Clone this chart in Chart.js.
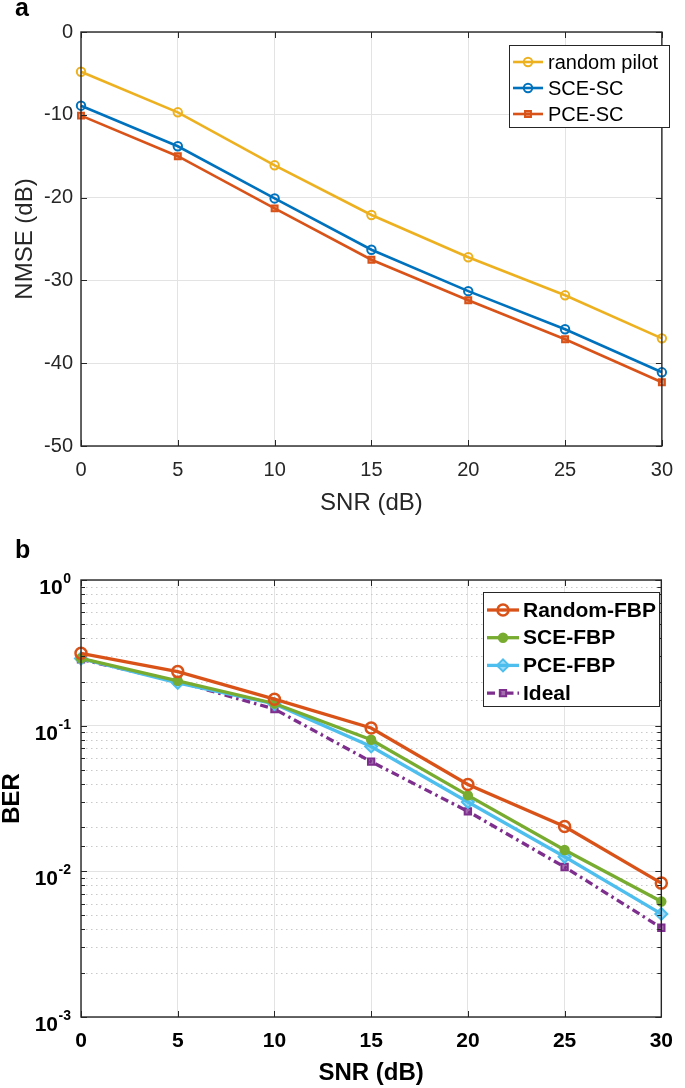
<!DOCTYPE html>
<html><head><meta charset="utf-8">
<script src="https://cdn.jsdelivr.net/npm/chart.js@4.4.1/dist/chart.umd.min.js"></script>
<style>
html,body{margin:0;padding:0;background:#fff;}
#wrap{position:relative;width:685px;height:1088px;overflow:hidden;}
canvas{position:absolute;left:0;}
#ca{top:0px}
#cb{top:520px}
</style></head><body>
<div id="wrap">
<canvas id="ca" width="685" height="520"></canvas>
<canvas id="cb" width="685" height="568"></canvas>
</div>
<script>
// ---------- data ----------
const snr = [0, 5, 10, 15, 20, 25, 30];
const snrTicks = [0, 5, 10, 15, 20, 25, 30];

// panel a: NMSE (dB)
const nmseTicks = [0, -10, -20, -30, -40, -50];
const nmseRandomPilot = [-4.8, -9.7, -16.1, -22.1, -27.2, -31.8, -37.0];
const nmseSCE_SC      = [-8.9, -13.8, -20.1, -26.3, -31.3, -35.9, -41.1];
const nmsePCE_SC      = [-10.1, -15.0, -21.3, -27.5, -32.4, -37.1, -42.3];

// panel b: BER
const berMajorTicks = [1, 0.1, 0.01, 0.001];
const berTickExponents = ['0', '-1', '-2', '-3'];
const berRandomFBP = [0.314, 0.235, 0.152, 0.0964, 0.0395, 0.0203, 0.0083];
const berSCE_FBP   = [0.290, 0.203, 0.142, 0.0800, 0.0332, 0.0140, 0.0062];
const berPCE_FBP   = [0.289, 0.197, 0.141, 0.0720, 0.0299, 0.0126, 0.0051];
const berIdeal     = [0.285, 0.201, 0.130, 0.0566, 0.0258, 0.0107, 0.0041];

// ---------- helpers ----------
const FONT = "'Liberation Sans', Arial, Helvetica, sans-serif";
const AX = '#262626';
const pts = (ys) => snr.map((x, i) => ({x: x, y: ys[i]}));
const isMajorLog = (v) => Math.abs(Math.log10(v) - Math.round(Math.log10(v))) < 1e-9;

const matlabPlugin = {
  id: 'matlab',
  beforeDatasetsDraw(chart, args, opts) {
    if (!opts.log) return;
    const {ctx, chartArea: a} = chart;
    const ys = chart.scales.y;
    ctx.save();
    ctx.strokeStyle = '#c9c9c9';
    ctx.lineWidth = 1;
    ctx.setLineDash([1.5, 3.5]);
    ys.ticks.forEach(t => {
      if (isMajorLog(t.value)) return;
      const y = Math.round(ys.getPixelForValue(t.value)) + 0.5;
      ctx.beginPath(); ctx.moveTo(a.left, y); ctx.lineTo(a.right, y); ctx.stroke();
    });
    ctx.restore();
  },
  afterDraw(chart, args, opts) {
    const {ctx, chartArea: a} = chart;
    const xs = chart.scales.x, ys = chart.scales.y;
    ctx.save();
    // inward tick marks on all four sides
    ctx.strokeStyle = AX;
    ctx.lineWidth = 1;
    ctx.setLineDash([]);
    xs.ticks.forEach(t => {
      const x = Math.round(xs.getPixelForValue(t.value)) + 0.5;
      ctx.beginPath();
      ctx.moveTo(x, a.bottom); ctx.lineTo(x, a.bottom - 6);
      ctx.moveTo(x, a.top); ctx.lineTo(x, a.top + 6);
      ctx.stroke();
    });
    ys.ticks.forEach(t => {
      const y = Math.round(ys.getPixelForValue(t.value)) + 0.5;
      const len = (!opts.log || isMajorLog(t.value)) ? 6 : 4;
      ctx.beginPath();
      ctx.moveTo(a.left, y); ctx.lineTo(a.left + len, y);
      ctx.moveTo(a.right, y); ctx.lineTo(a.right - len, y);
      ctx.stroke();
    });
    // axes box
    ctx.lineWidth = 1.4;
    ctx.strokeRect(a.left, a.top, a.right - a.left, a.bottom - a.top);

    // log-axis labels 10^n with superscript
    if (opts.log) {
      ctx.fillStyle = '#000';
      berMajorTicks.forEach((v, i) => {
        const y = ys.getPixelForValue(v);
        ctx.font = 'bold 14px ' + FONT;
        ctx.textAlign = 'right';
        ctx.textBaseline = 'alphabetic';
        const ew = ctx.measureText(berTickExponents[i]).width;
        ctx.fillText(berTickExponents[i], 71, y + 3);
        ctx.font = 'bold 21px ' + FONT;
        ctx.fillText('10', 71 - ew - 0.5, y + 14);
      });
    }

    // legend (line + marker + text), drawn from the datasets
    const L = opts.legend;
    ctx.fillStyle = '#fff';
    ctx.fillRect(L.x, L.y, L.w, L.h);
    ctx.strokeStyle = AX;
    ctx.lineWidth = 1;
    ctx.strokeRect(L.x + 0.5, L.y + 0.5, L.w, L.h);
    chart.data.datasets.forEach((ds, i) => {
      const y = L.y + L.first + i * L.gap;
      ctx.strokeStyle = ds.borderColor;
      ctx.lineWidth = ds.borderWidth;
      ctx.setLineDash(ds.borderDash || []);
      ctx.beginPath(); ctx.moveTo(L.x0, y); ctx.lineTo(L.x1, y); ctx.stroke();
      ctx.setLineDash([]);
      ctx.fillStyle = ds.pointBackgroundColor;
      ctx.strokeStyle = ds.pointBorderColor || ds.borderColor;
      ctx.lineWidth = ds.pointBorderWidth;
      Chart.helpers.drawPoint(ctx, {pointStyle: ds.pointStyle, radius: ds.pointRadius, borderWidth: ds.pointBorderWidth, rotation: 0}, (L.x0 + L.x1) / 2, y);
      ctx.fillStyle = '#000';
      ctx.font = L.font;
      ctx.textAlign = 'left';
      ctx.textBaseline = 'middle';
      ctx.fillText(ds.label, L.tx, y + 1);
    });

    // panel label
    ctx.fillStyle = '#000';
    ctx.font = 'bold 25px ' + FONT;
    ctx.textAlign = 'left';
    ctx.textBaseline = 'alphabetic';
    ctx.fillText(opts.panel.text, opts.panel.x, opts.panel.y);
    ctx.restore();
  }
};

function ds(label, data, color, style, radius, bg, opts) {
  return Object.assign({
    label: label, data: data, borderColor: color, pointBorderColor: color,
    pointBackgroundColor: bg, pointStyle: style, pointRadius: radius,
    pointHoverRadius: radius, borderWidth: 2.6, pointBorderWidth: 2,
    tension: 0, clip: false, fill: false
  }, opts || {});
}

// ---------- chart a ----------
new Chart(document.getElementById('ca'), {
  type: 'line',
  data: {
    datasets: [
      ds('random pilot', pts(nmseRandomPilot), '#EDB120', 'circle', 4.2, 'rgba(255,255,255,0)'),
      ds('SCE-SC', pts(nmseSCE_SC), '#0072BD', 'circle', 4.2, 'rgba(255,255,255,0)'),
      ds('PCE-SC', pts(nmsePCE_SC), '#D95319', 'rect', 4.2, 'rgba(217,83,25,0.6)')
    ]
  },
  options: {
    responsive: false, animation: false, devicePixelRatio: 1,
    layout: {padding: {top: 32, right: 13, left: 0, bottom: 0}},
    plugins: {
      legend: {display: false}, tooltip: {enabled: false},
      matlab: {
        log: false,
        panel: {text: 'a', x: 15, y: 16},
        legend: {x: 509, y: 45, w: 160, h: 82, first: 17, gap: 26, x0: 513, x1: 543, tx: 548, font: '20px ' + FONT}
      }
    },
    scales: {
      x: {
        type: 'linear', min: 0, max: 30,
        afterBuildTicks: (s) => { s.ticks = snrTicks.map(v => ({value: v})); },
        ticks: {padding: 12, color: AX, font: {family: FONT, size: 20}},
        grid: {color: '#e3e3e3', drawTicks: false},
        border: {display: false},
        title: {display: true, text: 'SNR (dB)', color: AX, font: {family: FONT, size: 24, lineHeight: 1}, padding: {top: 0, bottom: 5}},
        afterFit: (s) => { s.height = 74; }
      },
      y: {
        min: -50, max: 0,
        afterBuildTicks: (s) => { s.ticks = nmseTicks.slice().reverse().map(v => ({value: v})); },
        ticks: {padding: 8, color: AX, font: {family: FONT, size: 20}},
        grid: {color: '#e3e3e3', drawTicks: false},
        border: {display: false},
        title: {display: true, text: 'NMSE (dB)', color: AX, font: {family: FONT, size: 24, lineHeight: 1}, padding: {top: 13, bottom: 0}},
        afterFit: (s) => { s.width = 81; }
      }
    }
  },
  plugins: [matlabPlugin]
});

// ---------- chart b ----------
new Chart(document.getElementById('cb'), {
  type: 'line',
  data: {
    datasets: [
      ds('Random-FBP', pts(berRandomFBP), '#D95319', 'circle', 5.5, 'rgba(255,255,255,0)', {borderWidth: 3.3, pointBorderWidth: 2.5}),
      ds('SCE-FBP', pts(berSCE_FBP), '#77AC30', 'circle', 4.2, '#77AC30', {borderWidth: 3.3}),
      ds('PCE-FBP', pts(berPCE_FBP), '#4DBEEE', 'rectRot', 6, 'rgba(77,190,238,0.55)', {borderWidth: 3.3}),
      ds('Ideal', pts(berIdeal), '#7E2F8E', 'rect', 4.5, 'rgba(126,47,142,0.7)', {borderWidth: 3.3, borderDash: [8, 4, 2.5, 4]})
    ]
  },
  options: {
    responsive: false, animation: false, devicePixelRatio: 1,
    layout: {padding: {top: 60, right: 13, left: 0, bottom: 0}},
    plugins: {
      legend: {display: false}, tooltip: {enabled: false},
      matlab: {
        log: true,
        panel: {text: 'b', x: 15, y: 38},
        legend: {x: 483, y: 72, w: 176, h: 114, first: 18, gap: 27.7, x0: 487, x1: 519, tx: 523, font: 'bold 21px ' + FONT}
      }
    },
    scales: {
      x: {
        type: 'linear', min: 0, max: 30,
        afterBuildTicks: (s) => { s.ticks = snrTicks.map(v => ({value: v})); },
        ticks: {padding: 12, color: '#000', font: {family: FONT, size: 21, weight: 'bold'}},
        grid: {color: '#e3e3e3', drawTicks: false},
        border: {display: false},
        title: {display: true, text: 'SNR (dB)', color: '#000', font: {family: FONT, size: 24, weight: 'bold', lineHeight: 1}, padding: {top: 0, bottom: 3}},
        afterFit: (s) => { s.height = 71; }
      },
      y: {
        type: 'logarithmic', min: 0.001, max: 1,
        ticks: {display: false},
        grid: {drawTicks: false, color: (c) => (c.tick && isMajorLog(c.tick.value)) ? '#e3e3e3' : 'rgba(0,0,0,0)'},
        border: {display: false},
        title: {display: true, text: 'BER', color: '#000', font: {family: FONT, size: 24, weight: 'bold', lineHeight: 1}, padding: {top: 0, bottom: 0}},
        afterFit: (s) => { s.width = 81; }
      }
    }
  },
  plugins: [matlabPlugin]
});
</script>
</body></html>
